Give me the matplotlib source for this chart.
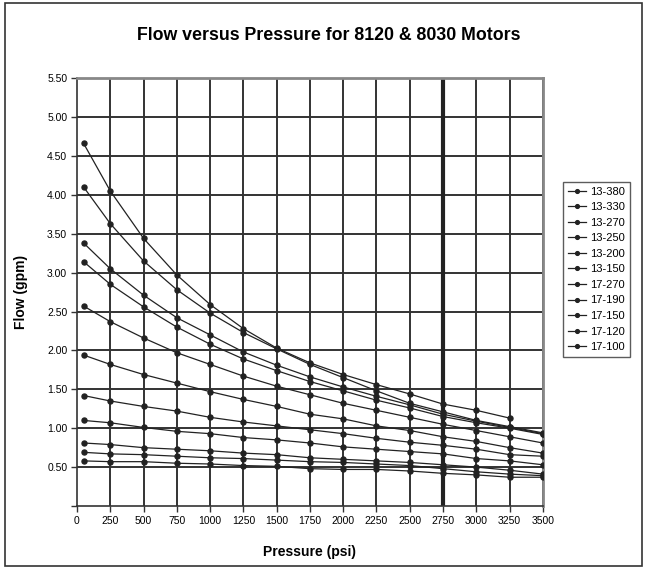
import numpy as np
import matplotlib.pyplot as plt
from matplotlib.patches import Rectangle

plt.rcParams['font.family'] = ['Liberation Sans', 'DejaVu Sans']

pressure = [50, 250, 500, 750, 1000, 1250, 1500, 1750, 2000, 2250, 2500, 2750, 3000, 3250, 3500]

names = ["13-380", "13-330", "13-270", "13-250", "13-200", "13-150",
         "17-270", "17-190", "17-150", "17-120", "17-100"]

m13_380 = [4.66, 4.05, 3.44, 2.97, 2.59, 2.28, 2.03, 1.84, 1.69, 1.56, 1.44, 1.31, 1.23, 1.13]
m13_330 = [4.10, 3.63, 3.15, 2.78, 2.48, 2.23, 2.02, 1.82, 1.65, 1.48, 1.32, 1.21, 1.10, 1.02, 0.94]
m13_270 = [3.38, 3.05, 2.71, 2.42, 2.20, 1.98, 1.81, 1.66, 1.53, 1.41, 1.30, 1.18, 1.09, 1.01, 0.93]
m13_250 = [3.14, 2.85, 2.56, 2.30, 2.08, 1.89, 1.74, 1.60, 1.48, 1.36, 1.26, 1.15, 1.07, 1.00, 0.92]
m13_200 = [2.57, 2.37, 2.16, 1.97, 1.82, 1.67, 1.54, 1.43, 1.32, 1.23, 1.14, 1.05, 0.97, 0.89, 0.81]
m13_150 = [1.94, 1.82, 1.69, 1.58, 1.47, 1.37, 1.28, 1.18, 1.12, 1.03, 0.97, 0.89, 0.83, 0.75, 0.68]
m17_270 = [1.42, 1.35, 1.28, 1.22, 1.14, 1.08, 1.03, 0.98, 0.93, 0.87, 0.82, 0.78, 0.73, 0.66, 0.64]
m17_190 = [1.10, 1.07, 1.01, 0.96, 0.93, 0.88, 0.85, 0.81, 0.76, 0.73, 0.70, 0.67, 0.61, 0.58, 0.53]
m17_150 = [0.81, 0.79, 0.75, 0.73, 0.71, 0.68, 0.66, 0.62, 0.60, 0.58, 0.56, 0.53, 0.50, 0.46, 0.41]
m17_120 = [0.69, 0.67, 0.66, 0.64, 0.62, 0.61, 0.59, 0.57, 0.56, 0.54, 0.52, 0.48, 0.44, 0.41, 0.39]
m17_100 = [0.58, 0.57, 0.57, 0.55, 0.54, 0.52, 0.51, 0.48, 0.47, 0.47, 0.45, 0.42, 0.40, 0.37, 0.37]

series = [m13_380, m13_330, m13_270, m13_250, m13_200, m13_150,
          m17_270, m17_190, m17_150, m17_120, m17_100]

fig = plt.figure(figsize=(6.48, 5.69), dpi=100)
ax = fig.add_axes([0.1188, 0.1107, 0.719, 0.752])

# grid
for v in np.arange(250, 3501, 250):
    ax.axvline(v, color='#333333', lw=1.4, zorder=1)
for v in np.arange(0.5, 5.51, 0.5):
    ax.axhline(v, color='#333333', lw=1.4, zorder=1)
ax.axvline(2750, color='#222222', lw=3, zorder=1)

for name, vals in zip(names, series):
    ax.plot(pressure[:len(vals)], vals, color='#222222', lw=0.9, marker='o',
            markersize=3.6, label=name, zorder=3)

ax.set_xlim(0, 3500)
ax.set_ylim(0, 5.5)
ax.set_xticks(np.arange(0, 3501, 250))
ax.set_xticklabels([str(v) for v in range(0, 3501, 250)], fontsize=7.5)
yt = np.arange(0, 5.51, 0.5)
ax.set_yticks(yt)
ax.set_yticklabels(['' if v == 0 else '%.2f' % v for v in yt], fontsize=7.5)
ax.tick_params(direction='out', length=4, width=1, color='#333333', pad=3)

for s in ['top', 'right']:
    ax.spines[s].set_color('#888888')
    ax.spines[s].set_linewidth(2)
for s in ['left', 'bottom']:
    ax.spines[s].set_color('#333333')
    ax.spines[s].set_linewidth(1.2)

ax.set_xlabel("Pressure (psi)", fontsize=10, fontweight='bold', labelpad=14)
ax.set_ylabel("Flow (gpm)", fontsize=10, fontweight='bold', labelpad=14)
fig.text(0.508, 0.938, "Flow versus Pressure for 8120 & 8030 Motors",
         ha='center', va='center', fontsize=12.8, fontweight='bold')

leg = fig.legend(loc='upper left', bbox_to_anchor=(0.869, 0.681), fontsize=8,
                 frameon=True, fancybox=False, edgecolor='#333333',
                 handlelength=1.6, handletextpad=0.35, labelspacing=0.5,
                 borderpad=0.45, borderaxespad=0, markerscale=0.75)
leg.get_frame().set_linewidth(1)

fig.patches.append(Rectangle((0.008, 0.005), 0.982, 0.99, transform=fig.transFigure,
                             fill=False, edgecolor='#333333', lw=1.2))

plt.savefig("out.png", dpi=100)
